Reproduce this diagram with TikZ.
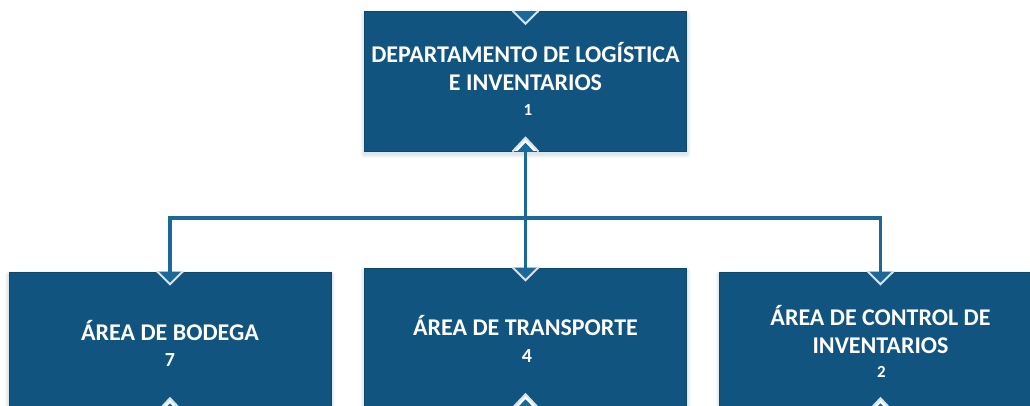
\documentclass[tikz,border=0pt]{standalone}
\usepackage{fontspec}
\setmainfont{Carlito}
\usetikzlibrary{calc}
\definecolor{boxblue}{HTML}{11547F}
\definecolor{linkblue}{HTML}{1B6899}
\definecolor{chev}{HTML}{D5E3EC}
\newcommand{\smallnum}{\fontsize{17}{28}\selectfont}
\newcommand{\bignum}{\fontsize{20}{28}\selectfont}
\tikzset{
  orgbox/.style={rectangle,fill=boxblue,draw=boxblue!85!black,line width=0.6pt,
    minimum width=322pt,minimum height=139.5pt,inner sep=0pt},
  orgtext/.style={text=white,inner sep=0pt,align=center,
    font=\fontsize{24}{28}\selectfont\bfseries},
  softedge/.style={fill=boxblue,fill opacity=0.035},
  link/.style={draw=linkblue,line width=3.4pt},
  notchline/.style={draw=chev,line width=2pt,line join=miter}
}
\newcommand{\softshadow}[4]{%
  \foreach \g in {1,2,3,4}{%
    \fill[softedge,rounded corners=\g pt] (#1-\g,#2-\g+3) rectangle (#3+\g,#4+\g+3);}}
\newcommand{\topnotch}[1]{%
  \fill[linkblue] ($(#1.north)+(-13,0)$) -- ($(#1.north)+(0,12.5)$) -- ($(#1.north)+(13,0)$) -- cycle;
  \draw[notchline] ($(#1.north)+(-13,-0.3)$) -- ($(#1.north)+(0,12.5)$) -- ($(#1.north)+(13,-0.3)$);}
\newcommand{\botnotch}[1]{%
  \fill[white] ($(#1.south)+(-13,0)$) -- ($(#1.south)+(0,-13.5)$) -- ($(#1.south)+(13,0)$) -- cycle;
  \fill[linkblue] ($(#1.south)+(-8,0)$) -- ($(#1.south)+(0,-8.5)$) -- ($(#1.south)+(8,0)$) -- cycle;
  \draw[notchline] ($(#1.south)+(-13,0.3)$) -- ($(#1.south)+(0,-13.5)$) -- ($(#1.south)+(13,0.3)$);}
\begin{document}
\begin{tikzpicture}[x=1pt,y=-1pt]
\useasboundingbox[clip] (0,0) rectangle (1030,406);
\fill[white] (0,0) rectangle (1030,406);
\softshadow{364.5}{11.5}{686.5}{151}
\softshadow{9}{272}{331}{411.5}
\softshadow{364.5}{268}{686.5}{407.5}
\softshadow{719.5}{272}{1041.5}{411.5}
\node[orgbox] (top) at (525.5,81.2) {};
\node[orgbox] (bod) at (170,341.7) {};
\node[orgbox] (tra) at (525.5,337.7) {};
\node[orgbox] (con) at (880.5,341.7) {};
\node[orgtext] (toptext) at (525.5,79) {DEPARTAMENTO DE LOGÍSTICA\\E INVENTARIOS\\[-3.5pt]{\smallnum\hspace{5pt}1}};
\node[orgtext] (bodtext) at (170,343.5) {ÁREA DE BODEGA\\[-1.5pt]{\bignum 7}};
\node[orgtext] (tratext) at (525.5,339) {ÁREA DE TRANSPORTE\\[-1.5pt]{\bignum\hspace{3pt}4}};
\node[orgtext] (context) at (880.5,341.5) {ÁREA DE CONTROL DE\\INVENTARIOS\\[-4pt]{\smallnum\hspace{2pt}2}};
\coordinate (bus) at (525.5,218);
\topnotch{top}\botnotch{top}
\topnotch{bod}\botnotch{bod}
\topnotch{tra}\botnotch{tra}
\topnotch{con}\botnotch{con}
\draw[link] ($(top.south)+(0,-6)$) -- ($(tra.north)+(0,6)$);
\draw[link] (bus) -| ($(bod.north)+(0,6)$);
\draw[link] (bus) -| ($(con.north)+(0,6)$);
\end{tikzpicture}
\end{document}
